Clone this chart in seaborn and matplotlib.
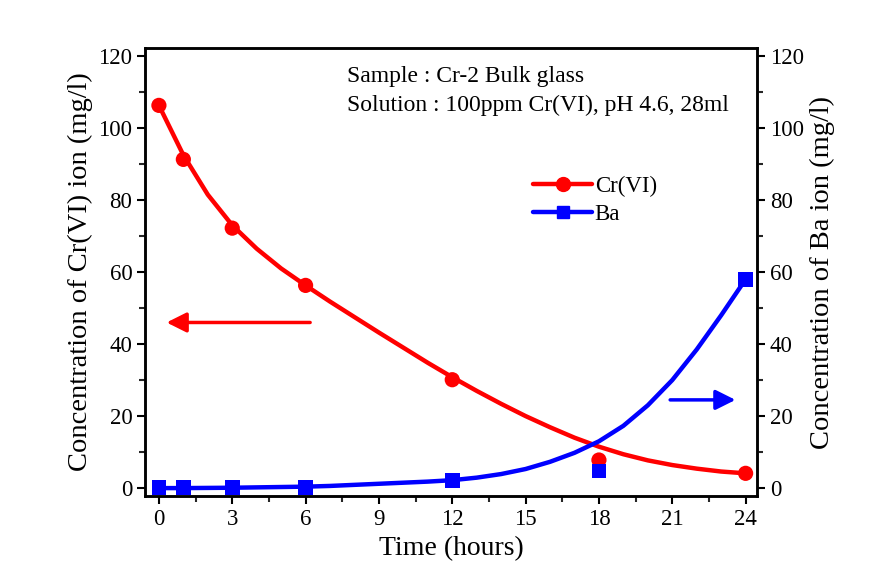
import numpy as np
import pandas as pd
import seaborn as sns
import matplotlib.pyplot as plt
from matplotlib.lines import Line2D
from matplotlib.ticker import MultipleLocator

# measured points
time_pts = [0, 1, 3, 6, 12, 18, 24]
cr_pts = [106.3, 91.3, 72.2, 56.3, 30.1, 7.8, 4.1]
ba_pts = [0.2, 0.2, 0.2, 0.2, 2.1, 4.8, 58.0]

# fitted curves (hourly)
fit_time = list(range(0, 25))
cr_fit = [106.3, 92.5, 81.5, 73.0, 66.5, 61.0, 56.3, 51.8, 47.5, 43.2, 39.0, 34.8,
          30.8, 27.0, 23.4, 20.0, 16.9, 14.0, 11.5, 9.4, 7.7, 6.4, 5.4, 4.6, 4.1]
ba_fit = [0.0, 0.0, 0.05, 0.1, 0.2, 0.3, 0.4, 0.6, 0.9, 1.2, 1.5, 1.8,
          2.2, 2.9, 3.9, 5.3, 7.3, 9.8, 13.0, 17.3, 23.0, 30.0, 38.5, 48.0, 58.0]

x_ticks = [0, 3, 6, 9, 12, 15, 18, 21, 24]
y_ticks = [0, 20, 40, 60, 80, 100, 120]

sns.set_theme(style="ticks")
plt.rcParams['font.family'] = ['Liberation Serif', 'DejaVu Serif']
plt.rcParams['text.color'] = 'black'
plt.rcParams['axes.labelcolor'] = 'black'

fig, ax = plt.subplots(figsize=(8.87, 5.87), dpi=100)
fig.subplots_adjust(left=0.164, right=0.853, top=0.918, bottom=0.155)
ax2 = ax.twinx()

red = '#ff0000'
blue = '#0000ff'

sns.lineplot(x=fit_time, y=cr_fit, ax=ax, color=red, lw=3.2)
sns.scatterplot(x=time_pts, y=cr_pts, ax=ax, color=red, marker='o', s=120, edgecolor='none', zorder=3)
sns.lineplot(x=fit_time, y=ba_fit, ax=ax2, color=blue, lw=3.2)
sns.scatterplot(x=time_pts, y=ba_pts, ax=ax2, color=blue, marker='s', s=110, edgecolor='none', zorder=3)

for a in (ax, ax2):
    a.set_xlim(-0.55, 24.45)
    a.set_ylim(-2.2, 122.2)
    a.set_yticks(y_ticks)
    a.yaxis.set_minor_locator(MultipleLocator(10))
    a.tick_params(axis='both', which='major', direction='out', length=6, width=1.5, labelsize=16.5, colors='black')
    a.tick_params(axis='both', which='minor', direction='out', length=4, width=1.5)
    for s in a.spines.values():
        s.set_linewidth(1.8)
        s.set_color('black')

ax.set_xticks(x_ticks)
ax.xaxis.set_minor_locator(MultipleLocator(1.5))
ax.set_xlabel('Time (hours)', fontsize=20)
ax.set_ylabel('Concentration of Cr(VI) ion (mg/l)', fontsize=20.5)
ax2.set_ylabel('Concentration of Ba ion (mg/l)', fontsize=20.5)

ax.text(0.33, 0.925, 'Sample : Cr-2 Bulk glass', transform=ax.transAxes, fontsize=17)
ax.text(0.33, 0.86, 'Solution : 100ppm Cr(VI), pH 4.6, 28ml', transform=ax.transAxes, fontsize=17)

# direction arrows
ax.annotate('', xy=(0.2, 46), xytext=(6.3, 46),
            arrowprops=dict(arrowstyle='-|>', color=red, lw=2.5, mutation_scale=30))
ax2.annotate('', xy=(23.7, 24.5), xytext=(20.8, 24.5),
             arrowprops=dict(arrowstyle='-|>', color=blue, lw=2.5, mutation_scale=30))

handles = [Line2D([], [], color=red, lw=3.2, marker='o', markersize=10),
           Line2D([], [], color=blue, lw=3.2, marker='s', markersize=9)]
ax.legend(handles, ['Cr(VI)', 'Ba'], loc='upper left', bbox_to_anchor=(0.6, 0.76),
          frameon=False, fontsize=16.5, handlelength=2.6, handletextpad=0.1, labelspacing=0.3)

fig.savefig('out.png', dpi=100)
